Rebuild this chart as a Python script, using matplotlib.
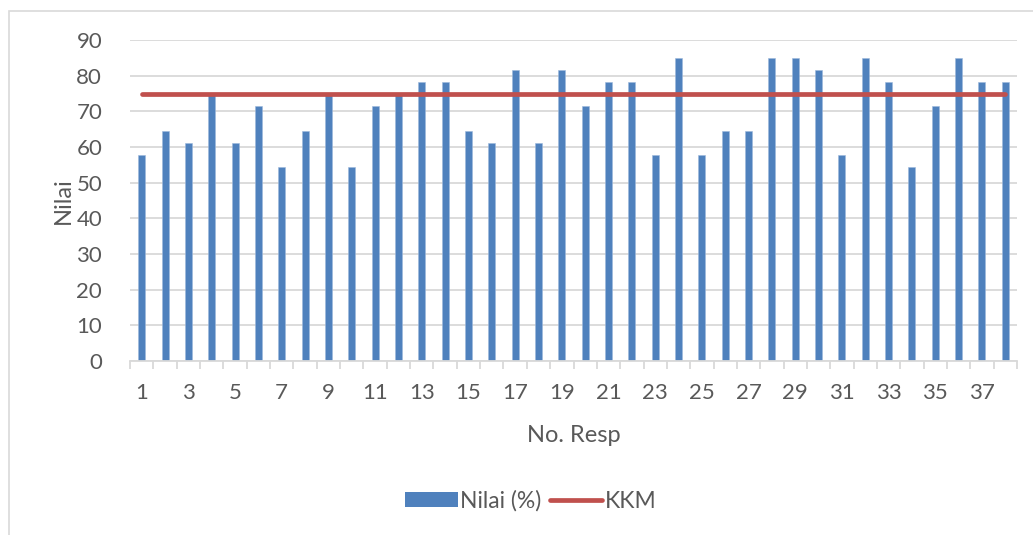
import matplotlib
matplotlib.use("Agg")
import matplotlib.pyplot as plt
from matplotlib.patches import Patch, Rectangle
from matplotlib.lines import Line2D

respondents = list(range(1, 39))
nilai = [57.8, 64.6, 61.2, 74.8, 61.2, 71.4, 54.4, 64.6, 74.8, 54.4,
         71.4, 74.8, 78.2, 78.2, 64.6, 61.2, 81.6, 61.2, 81.6, 71.4,
         78.2, 78.2, 57.8, 85.0, 57.8, 64.6, 64.6, 85.0, 85.0, 81.6,
         57.8, 85.0, 78.2, 54.4, 71.4, 85.0, 78.2, 78.2]
kkm = [75] * len(respondents)
yticks = [0, 10, 20, 30, 40, 50, 60, 70, 80, 90]
xtick_labels = [str(i) for i in respondents if i % 2 == 1]

plt.rcParams['font.family'] = ['Lato', 'DejaVu Sans']
TXT = '#595959'
GRID = '#D9D9D9'

W, H = 1033, 535
fig = plt.figure(figsize=(W / 100, H / 100), dpi=100)
fig.patch.set_facecolor('white')
fig.patches.append(Rectangle((9 / W, -0.05), 1.2, 1 - 11 / H + 0.05,
                             transform=fig.transFigure, fill=False,
                             edgecolor=GRID, linewidth=1.2))

ax = fig.add_axes([130 / W, 1 - 361 / H, (1017 - 130) / W, (361 - 40) / H])
ax.bar(respondents, nilai, width=0.3, color='#4F81BD', zorder=2,
       edgecolor='#9DB8DC', linewidth=0.4)
ax.plot(respondents, kkm, color='#C0504D', linewidth=3.4,
        solid_capstyle='round', zorder=3)

ax.set_xlim(0.5, 38.5)
ax.set_ylim(0, 90)
ax.set_yticks(yticks)
ax.yaxis.grid(True, color=GRID, linewidth=1.3, zorder=0)
ax.set_axisbelow(True)
for s in ['top', 'right', 'left']:
    ax.spines[s].set_visible(False)
ax.spines['bottom'].set_color(GRID)
ax.spines['bottom'].set_linewidth(1.3)

ax.set_xticks([i for i in respondents if i % 2 == 1])
ax.set_xticklabels(xtick_labels)
ax.set_xticks([i + 0.5 for i in range(0, 39)], minor=True)
ax.tick_params(axis='x', which='major', length=0, pad=16, labelsize=16,
               labelcolor=TXT)
ax.tick_params(axis='x', which='minor', length=6, width=1.3, color=GRID)
ax.tick_params(axis='y', length=0, pad=20, labelsize=16, labelcolor=TXT)

ax.set_xlabel('No. Resp', fontsize=17, color=TXT, labelpad=16)
ax.set_ylabel('Nilai', fontsize=17, color=TXT, labelpad=2)

handles = [Patch(facecolor='#4F81BD', edgecolor='none'),
           Line2D([0], [0], color='#C0504D', linewidth=3.4,
                  solid_capstyle='round')]
fig.legend(handles, ['Nilai (%)', 'KKM'], loc='center',
           bbox_to_anchor=(531 / W, 1 - 501 / H), ncol=2, frameon=False,
           fontsize=16.5, labelcolor=TXT, handlelength=2.3,
           handleheight=0.65, handletextpad=0.12, columnspacing=0.35)

fig.savefig('out.png', dpi=100, facecolor='white')
